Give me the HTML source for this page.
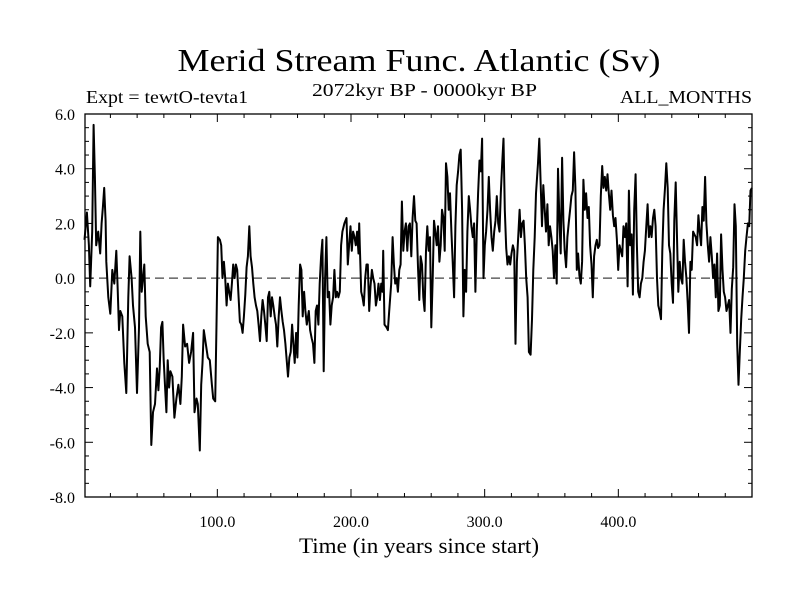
<!DOCTYPE html>
<html><head><meta charset="utf-8"><style>
html,body{margin:0;padding:0;background:#fff;}
svg text{font-family:"Liberation Serif",serif;fill:#000;}
</style></head><body>
<svg id="chart" width="800" height="600" viewBox="0 0 800 600" xmlns="http://www.w3.org/2000/svg">
<rect width="800" height="600" fill="#fff"/>
<text x="419" y="71" font-size="32" text-anchor="middle" textLength="483" lengthAdjust="spacingAndGlyphs">Merid Stream Func. Atlantic (Sv)</text>
<text x="86" y="103" font-size="18" textLength="162" lengthAdjust="spacingAndGlyphs">Expt = tewtO-tevta1</text>
<text x="312" y="96" font-size="18" textLength="225" lengthAdjust="spacingAndGlyphs">2072kyr BP - 0000kyr BP</text>
<text x="752" y="103" font-size="18" text-anchor="end" textLength="132" lengthAdjust="spacingAndGlyphs">ALL_MONTHS</text>
<g id="axes"></g>
<g id="series"></g>
<rect x="85" y="114" width="667" height="383" fill="none" stroke="#000" stroke-width="1.3"/>
<text x="419" y="553" font-size="22" text-anchor="middle" textLength="240" lengthAdjust="spacingAndGlyphs">Time (in years since start)</text>
</svg>
<script>
const years = [0.6,2.4,3.9,4.9,5.9,6.4,7.4,8.4,9.4,10.9,12.4,13.4,14.4,15.4,16.4,16.9,18.4,19.9,21.4,22.9,24.4,25.4,26.4,27.4,28.9,30.4,31.9,33.4,34.4,35.9,36.9,38.4,39.9,41.4,42.4,43.4,44.4,45.4,46.4,47.9,49.4,50.6,51.9,53.4,54.9,55.9,56.9,57.9,58.9,59.9,60.9,61.9,62.9,63.9,64.9,66.4,67.9,69.4,70.9,72.4,73.4,74.4,75.9,77.4,78.9,80.4,81.9,82.9,84.4,85.4,86.9,87.9,88.9,89.9,91.4,92.9,94.4,95.9,96.9,98.4,99.4,100.4,101.9,102.9,103.9,104.9,105.9,106.9,107.9,108.9,109.9,110.9,111.9,112.9,113.9,114.9,115.9,116.9,117.9,118.9,119.9,120.9,121.9,122.9,123.9,124.9,125.9,126.9,127.9,128.9,129.9,130.9,131.9,132.9,133.9,134.9,135.9,136.9,137.9,138.9,139.9,140.9,141.9,142.9,143.9,144.9,145.9,146.9,147.9,148.9,149.9,150.9,151.9,152.9,153.9,154.9,155.9,156.9,157.9,158.9,159.9,160.9,161.9,162.9,163.9,164.9,165.9,166.9,168.4,169.4,
170.6,171.6,172.6,173.6,174.6,175.6,176.6,177.6,178.6,179.6,180.6,181.6,182.6,183.6,184.6,185.6,186.6,187.6,188.6,189.6,190.6,191.6,192.6,193.6,195.1,196.6,197.6,198.6,199.6,200.6,201.6,202.6,203.6,204.6,205.6,206.1,206.6,207.6,208.6,209.6,210.6,211.6,212.6,213.6,214.6,215.6,216.6,217.6,218.6,219.6,220.6,221.6,222.6,223.6,224.1,225.1,226.6,227.6,228.6,230.1,231.1,232.1,233.1,234.1,235.1,236.1,237.1,238.1,239.1,240.1,241.1,242.1,243.1,244.1,245.1,246.1,247.1,248.1,249.1,250.1,251.1,252.1,253.1,254.1,255.1,256.1,257.1,258.1,259.1,260.1,261.1,262.1,263.1,264.1,265.1,266.1,267.1,268.1,269.1,270.1,271.1,272.1,273.1,274.1,275.1,276.1,277.1,278.1,279.1,280.1,281.1,282.1,283.1,284.1,285.1,286.1,287.1,288.1,289.1,290.1,291.1,292.1,293.1,294.1,295.1,296.1,297.1,298.1,299.1,300.1,301.1,302.1,303.1,304.1,305.1,306.1,307.1,308.1,309.1,310.1,311.1,312.1,313.1,314.1,315.1,316.1,317.1,318.1,319.1,320.1,321.1,322.1,323.1,324.1,325.1,326.1,327.1,328.1,329.1,330.1,331.1,332.1,333.1,
334.4,335.4,336.4,337.4,338.4,339.9,340.9,341.9,342.9,343.9,344.9,345.9,346.9,347.9,348.9,349.9,350.9,351.9,352.9,353.9,354.9,355.9,356.9,357.9,358.9,359.9,360.9,361.9,362.9,363.9,364.9,365.9,366.9,367.9,368.9,369.9,370.9,371.9,372.9,373.9,374.9,375.9,376.9,377.9,378.9,379.9,380.9,381.9,382.9,383.9,384.9,385.9,386.9,387.9,388.9,389.9,390.9,391.9,392.9,393.9,394.9,395.9,396.9,397.9,398.9,399.9,400.9,401.9,402.9,403.9,404.9,405.9,406.9,407.9,408.9,409.9,410.9,411.9,412.9,413.9,414.9,415.9,416.9,417.9,418.9,419.9,420.9,421.9,422.9,423.9,424.9,425.9,426.9,427.9,428.9,429.9,430.9,431.9,432.9,433.9,434.9,435.9,436.9,437.9,438.9,439.9,440.9,441.9,442.9,443.9,444.9,445.9,446.9,447.9,448.9,449.9,450.9,451.9,452.9,453.9,454.9,455.9,456.9,457.9,458.9,459.9,460.9,461.9,462.9,463.9,464.9,465.9,466.9,467.9,468.9,469.9,470.9,471.9,472.9,473.9,474.9,475.9,476.9,477.9,478.9,479.9,480.9,481.9,482.9,483.9,484.9,485.9,486.9,487.9,488.9,489.9,490.9,491.9,492.9,493.9,494.9,495.9,496.9,497.9,498.9,499.9];
const values = [1.4,2.4,1.2,-0.3,1.0,1.7,5.6,3.7,1.2,1.7,0.9,2.0,2.6,3.3,2.1,0.6,-0.7,-1.3,0.3,-0.2,1.0,-0.3,-1.9,-1.2,-1.4,-3.1,-4.2,-0.7,0.8,0.0,-1.0,-1.8,-4.2,-1.8,1.7,-0.5,0.0,0.5,-1.4,-2.4,-2.7,-6.1,-4.9,-4.6,-3.3,-4.1,-3.3,-1.8,-1.6,-3.0,-4.0,-4.9,-3.0,-4.0,-3.4,-3.6,-5.1,-4.4,-3.9,-4.6,-3.6,-1.7,-2.5,-2.4,-3.1,-2.7,-2.0,-4.9,-4.4,-4.6,-6.3,-3.9,-3.1,-1.9,-2.4,-2.9,-3.0,-3.9,-4.4,-4.5,-1.7,1.5,1.4,1.2,0.0,0.6,0.0,-1.0,-0.2,-0.5,-0.8,-0.2,0.5,0.0,0.5,0.3,-0.7,-1.6,-1.7,-2.0,-1.4,-0.6,0.4,0.8,1.9,0.8,0.4,-0.2,-0.7,-1.0,-1.2,-1.7,-2.3,-1.4,-0.8,-1.2,-1.7,-2.3,-0.7,-0.5,-1.4,-0.7,-1.0,-1.4,-1.7,-2.5,-1.4,-0.7,-1.2,-1.6,-1.9,-2.4,-3.0,-3.6,-2.9,-2.7,-1.7,-2.4,-3.1,-2.0,-2.9,-1.0,0.5,0.3,-1.4,-0.5,-1.2,-1.7,-1.2,-1.9,
-2.2,-2.4,-3.1,-1.2,-1.0,-1.7,-0.2,0.8,1.4,-3.4,0.0,1.5,-0.7,-0.5,-1.7,-1.0,-0.7,0.3,-0.7,-0.5,-0.7,-0.5,1.2,1.7,2.0,2.2,0.5,1.2,1.9,1.0,1.7,1.5,1.2,1.7,0.9,2.0,1.2,-0.5,-0.7,-1.0,0.0,0.5,0.5,-1.2,-0.3,0.3,0.0,-0.2,-1.0,-0.7,-0.2,-0.8,-0.2,-0.5,1.0,-1.7,-1.8,-1.9,-1.2,-0.2,1.5,0.5,-0.2,0.0,-0.5,0.3,0.5,2.8,1.0,1.7,2.0,1.0,1.9,2.0,0.8,2.2,3.0,2.1,2.0,0.4,-0.8,0.8,0.5,-0.7,-1.2,1.0,1.9,1.0,1.5,-1.8,0.0,2.1,1.7,1.2,1.9,0.6,1.2,2.5,2.2,1.0,4.2,3.7,2.5,3.1,1.7,0.6,-0.7,1.9,3.4,3.9,4.5,4.7,2.5,-1.4,0.3,-0.5,1.7,3.0,2.5,1.9,1.5,2.0,-0.5,1.7,3.1,4.3,3.9,5.1,0.0,1.2,1.7,2.5,3.7,2.5,1.5,1.0,1.7,2.1,3.0,2.0,1.7,3.1,4.2,5.1,2.5,1.1,0.5,0.8,0.5,0.9,1.2,1.0,-2.4,0.6,1.5,2.5,1.5,2.0,2.1,1.2,0.0,-0.7,-2.7,
-2.8,-1.5,0.3,1.5,3.1,4.2,5.1,3.4,1.9,3.4,2.5,1.7,2.7,1.2,1.9,1.5,1.0,0.0,1.2,-0.2,4.0,2.1,0.9,4.4,2.1,1.0,0.4,1.5,2.0,2.5,3.0,3.2,4.6,3.3,0.3,0.9,0.1,-0.2,0.6,3.6,2.5,3.1,2.2,2.6,1.2,0.5,-0.7,0.8,1.2,1.4,1.1,1.2,3.0,4.1,3.3,3.7,3.2,3.8,3.1,2.5,3.2,2.3,1.9,2.2,1.4,0.3,1.2,1.0,0.8,1.9,1.5,2.0,-0.3,3.2,1.2,1.6,-0.6,2.5,3.8,1.2,-0.5,-0.7,-0.2,0.0,0.6,1.0,1.9,2.7,1.5,1.9,1.5,2.2,2.5,1.9,0.0,-1.0,-1.2,-1.5,1.0,2.5,3.3,4.2,3.3,1.2,0.9,-0.2,-0.9,2.1,3.5,1.5,-0.5,0.6,0.0,-0.2,1.4,0.6,0.0,-0.9,-2.0,0.6,0.3,1.7,1.6,1.5,1.2,2.3,1.7,1.2,2.6,2.1,3.7,2.0,1.2,0.6,1.5,0.8,0.0,0.5,-0.7,0.9,-1.2,-1.0,1.6,0.3,-0.5,-0.7,-1.2,-1.0,-0.8,-2.0,-0.4,0.4,2.7,1.9,-2.4,-3.9,-2.7,-1.5,-0.7,0.0,1.0,1.5,2.0,1.9,3.2,3.3];
const yTickValues = [6,4,2,0,-2,-4,-6,-8];
const yTickLabels = ["6.0","4.0","2.0","0.0","-2.0","-4.0","-6.0","-8.0"];
const xTickValues = [100,200,300,400];
const xTickLabels = ["100.0","200.0","300.0","400.0"];

const X0=85,X1=752,Y0=114,Y1=497;
const XMIN=1,XMAX=500,YMIN=-8,YMAX=6;
function sx(v){return X0+(v-XMIN)/(XMAX-XMIN)*(X1-X0);}
function sy(v){return Y1-(v-YMIN)/(YMAX-YMIN)*(Y1-Y0);}
const NS="http://www.w3.org/2000/svg";
const axes=document.getElementById('axes');
function mk(tag,attrs,parent){const e=document.createElementNS(NS,tag);for(const k in attrs)e.setAttribute(k,attrs[k]);parent.appendChild(e);return e;}

// zero line
const z=mk('line',{x1:X0,x2:X1,y1:sy(0),y2:sy(0),stroke:'#444','stroke-width':1.2,'stroke-dasharray':'9,5'},axes);



// y minor/major ticks
for(let v=YMIN;v<=YMAX+0.001;v+=0.5){
  const major=Math.abs(v-Math.round(v/2)*2)<0.001;
  const len=major?8:4;
  const t1=mk('line',{x1:X0,x2:X0+len,y1:sy(v),y2:sy(v),stroke:'#000','stroke-width':1},axes);
  
  
  const t2=mk('line',{x1:X1,x2:X1-len,y1:sy(v),y2:sy(v),stroke:'#000','stroke-width':1},axes);
  
  
}
yTickValues.forEach((v,i)=>{
  const t=mk('text',{x:75,y:sy(v)+6,'font-size':16,'text-anchor':'end'},axes);
  t.textContent=yTickLabels[i];
  
  
});
// x ticks every 20
for(let v=20;v<XMAX;v+=20){
  const major=v%100===0;
  const len=major?8:4;
  const t1=mk('line',{x1:sx(v),x2:sx(v),y1:Y1,y2:Y1-len,stroke:'#000','stroke-width':1},axes);
  
  
  const t2=mk('line',{x1:sx(v),x2:sx(v),y1:Y0,y2:Y0+len,stroke:'#000','stroke-width':1},axes);
  
  
}
xTickValues.forEach((v,i)=>{
  const t=mk('text',{x:sx(v),y:527,'font-size':16,'text-anchor':'middle'},axes);
  t.textContent=xTickLabels[i];
  
  
});

// series line
const pts=years.map((yr,i)=>sx(yr).toFixed(1)+','+sy(values[i]).toFixed(1)).join(' ');
const line=mk('polyline',{points:pts,fill:'none',stroke:'#000','stroke-width':2,'stroke-linejoin':'round'},document.getElementById('series'));


</script>
</body></html>
